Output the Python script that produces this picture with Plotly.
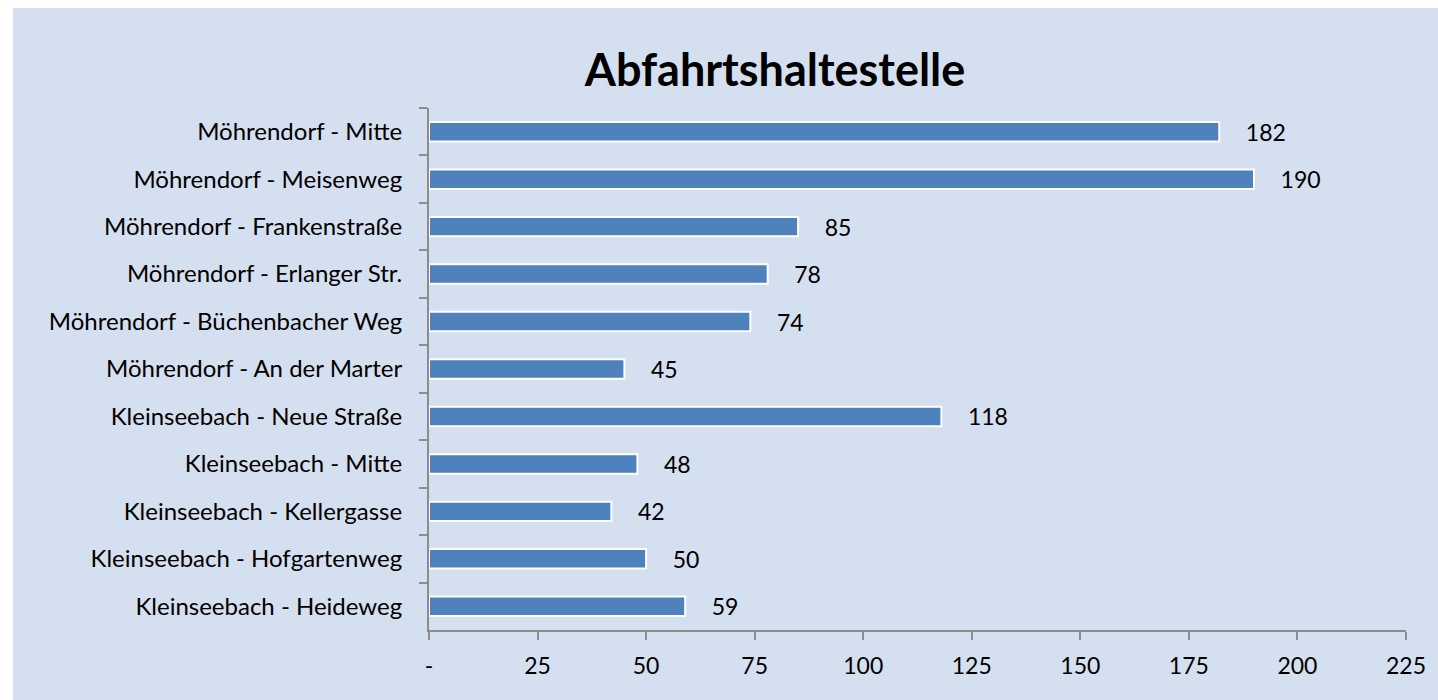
import plotly.graph_objects as go

categories = [
    "Möhrendorf - Mitte",
    "Möhrendorf - Meisenweg",
    "Möhrendorf - Frankenstraße",
    "Möhrendorf - Erlanger Str.",
    "Möhrendorf - Büchenbacher Weg",
    "Möhrendorf - An der Marter",
    "Kleinseebach - Neue Straße",
    "Kleinseebach - Mitte",
    "Kleinseebach - Kellergasse",
    "Kleinseebach - Hofgartenweg",
    "Kleinseebach - Heideweg",
]
values = [182, 190, 85, 78, 74, 45, 118, 48, 42, 50, 59]
tick_vals = [0, 25, 50, 75, 100, 125, 150, 175, 200, 225]
tick_text = ["-", "25", "50", "75", "100", "125", "150", "175", "200", "225"]

FONT = "Lato, 'Open Sans', sans-serif"
BG = "#D4DFEF"

W, H = 1438, 700
L, R, T, B = 429, 30, 108, 70
PW, PH = W - L - R, H - T - B

fig = go.Figure()
fig.add_trace(go.Bar(
    x=values, y=categories, orientation="h",
    marker=dict(color="#4F81BD", line=dict(color="white", width=2)),
    width=0.41,
    text=[f"    {v}" for v in values],
    textposition="outside",
    constraintext="none",
    textfont=dict(family=FONT, size=23, color="black"),
    cliponaxis=False,
))

fig.update_layout(
    width=W, height=H,
    paper_bgcolor="white",
    plot_bgcolor=BG,
    margin=dict(l=L, r=R, t=T, b=B),
    showlegend=False,
    title=dict(text="<b>Abfahrtshaltestelle</b>", x=775 / W, xanchor="center",
               y=1 - 70 / H, yanchor="middle", yref="container",
               font=dict(family=FONT, size=45, color="black")),
    shapes=[dict(type="rect", xref="paper", yref="paper", layer="below",
                 x0=(12 - L) / PW, x1=1 + (R + 10) / PW,
                 y0=-(B + 10) / PH, y1=1 + (T - 8) / PH,
                 fillcolor=BG, line=dict(width=0))],
)
fig.update_xaxes(
    range=[0, 225], tickvals=tick_vals, ticktext=tick_text,
    showgrid=False, zeroline=False,
    showline=True, linecolor="#8C8C8C", linewidth=2,
    ticks="outside", ticklen=8, tickwidth=2, tickcolor="#8C8C8C",
    tickfont=dict(family=FONT, size=23, color="black"),
    ticklabelstandoff=6,
)
fig.update_yaxes(
    autorange="reversed", showgrid=False,
    showline=True, linecolor="#8C8C8C", linewidth=2,
    ticks="outside", ticklen=8, tickwidth=2, tickcolor="#8C8C8C",
    tickson="boundaries",
    tickfont=dict(family=FONT, size=24, color="black"),
    ticklabelstandoff=20,
)
fig.write_html(
    "out.html",
    config={"displayModeBar": False},
    post_script="document.body.style.margin='0';document.body.style.overflow='hidden';",
)
